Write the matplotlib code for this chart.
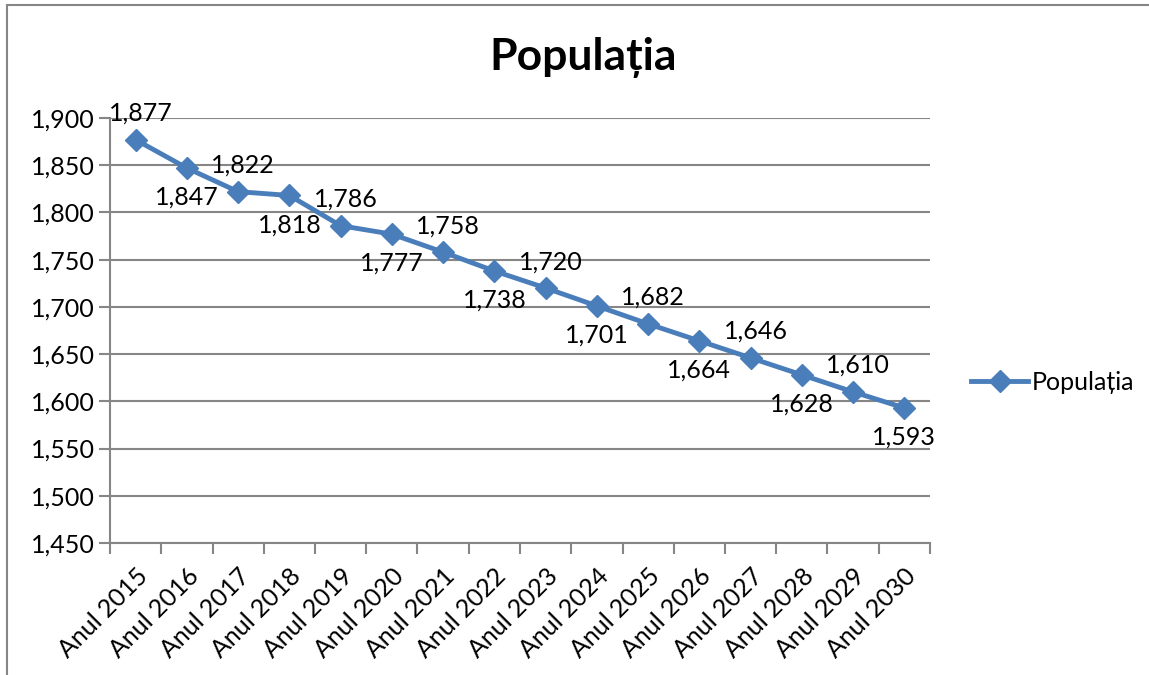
import matplotlib.pyplot as plt
import numpy as np
from matplotlib.patches import Rectangle

plt.rcParams['font.family'] = ['Lato', 'DejaVu Sans']

# Date
years = ['Anul 2015', 'Anul 2016', 'Anul 2017', 'Anul 2018', 'Anul 2019', 'Anul 2020',
         'Anul 2021', 'Anul 2022', 'Anul 2023', 'Anul 2024', 'Anul 2025', 'Anul 2026',
         'Anul 2027', 'Anul 2028', 'Anul 2029', 'Anul 2030']
populatia = [1877, 1847, 1822, 1818, 1786, 1777, 1758, 1738, 1720, 1701, 1682, 1664,
             1646, 1628, 1610, 1593]

blue = '#4A7EBB'
grey = '#868686'
fs = 18

fig = plt.figure(figsize=(11.49, 6.75), dpi=100)
ax = fig.add_axes([110 / 1149, 1 - 543 / 675, 820 / 1149, 425 / 675])

x = np.arange(len(years))
ax.plot(x, populatia, color=blue, lw=3.5, marker='D', markersize=11, label='Populația')

ax.set_xlim(-0.5, len(years) - 0.5)
ax.set_ylim(1450, 1900)
ax.set_yticks(np.arange(1450, 1901, 50))
ax.set_yticklabels([f'{v:,}' for v in range(1450, 1901, 50)])
ax.set_xticks(x)
ax.set_xticklabels(years, rotation=45, ha='right', rotation_mode='anchor')
ax.set_xticks(np.arange(-0.5, len(years)), minor=True)
ax.tick_params(axis='x', which='major', length=0, pad=15, labelsize=fs)
ax.tick_params(axis='x', which='minor', length=8, color=grey, width=1.5)
ax.tick_params(axis='y', length=8, color=grey, width=1.5, labelsize=fs, pad=3)

ax.grid(axis='y', color=grey, lw=1.5)
ax.set_axisbelow(True)
for s in ['top', 'right']:
    ax.spines[s].set_visible(False)
for s in ['left', 'bottom']:
    ax.spines[s].set_color(grey)
    ax.spines[s].set_linewidth(1.5)

# Etichete: alternativ deasupra / dedesubt
for i, v in enumerate(populatia):
    off = (3.5, 19) if i % 2 == 0 else (0, -21)
    ax.annotate(f'{v:,}', xy=(i, v), xytext=off, textcoords='offset points',
                ha='center', va='center', fontsize=fs)

fig.text(583 / 1149, 1 - 57 / 675, 'Populația', ha='center', va='center',
         fontsize=32, fontweight='bold')

ax.legend(loc='center left', bbox_to_anchor=(1.05, 1 - (382 - 118) / 425), frameon=False,
          fontsize=fs, handlelength=2.3, handletextpad=0.15, borderpad=0, borderaxespad=0)

fig.patches.append(Rectangle((7 / 1149, -0.1), 1.2, 1 - 5 / 675 + 0.1,
                             transform=fig.transFigure, fill=False, edgecolor=grey, lw=1.5))

fig.savefig('out.png', dpi=100)
